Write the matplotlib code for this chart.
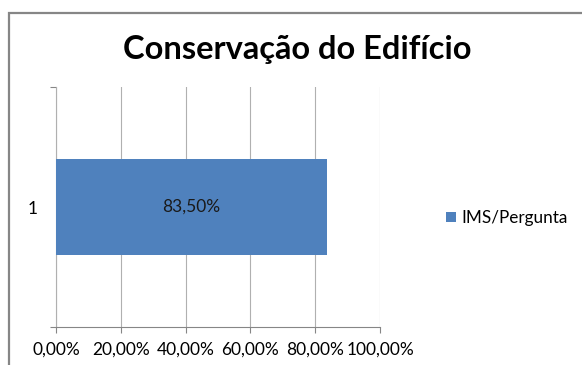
import matplotlib
matplotlib.use("Agg")
import matplotlib.pyplot as plt
from matplotlib.patches import Patch, Rectangle

plt.rcParams['font.family'] = ['Lato', 'DejaVu Sans']

categories = ["1"]
series_name = "IMS/Pergunta"
values = [0.835]
value_labels = ["83,50%"]
x_ticks = [0.0, 0.2, 0.4, 0.6, 0.8, 1.0]
x_tick_labels = ["0,00%", "20,00%", "40,00%", "60,00%", "80,00%", "100,00%"]
title = "Conservação do Edifício"

W, H = 582, 365
fig = plt.figure(figsize=(W / 100, H / 100), dpi=100)
fig.patch.set_facecolor("white")

# outer chart frame (cropped on right/bottom)
fig.patches.append(Rectangle((8.5 / W, -0.1), 1.2, 1 - 12.5 / H + 0.1,
                             transform=fig.transFigure, fill=False,
                             edgecolor="#868686", linewidth=1.6))

ax = fig.add_axes([56 / W, 1 - 327 / H, (380 - 56) / W, (327 - 87) / H])
ypos = list(range(1, len(categories) + 1))
bars = ax.barh(ypos, values, height=0.4, color="#4F81BD", zorder=3)
for b, lab in zip(bars, value_labels):
    ax.text(b.get_x() + b.get_width() / 2, b.get_y() + b.get_height() / 2, lab,
            ha="center", va="center", fontsize=12.5, color="#1a1a1a", zorder=4)

ax.set_xlim(0, 1.0)
ax.set_ylim(0.5, len(categories) + 0.5)
ax.set_xticks(x_ticks)
ax.set_xticklabels(x_tick_labels, fontsize=12.5)
ax.set_yticks(ypos)
ax.set_yticklabels(categories, fontsize=12.5)
ax.set_yticks([0.5, len(categories) + 0.5], minor=True)

ax.tick_params(axis="x", which="major", length=4.3, width=0.8, color="#868686",
               direction="out", pad=6)
ax.tick_params(axis="y", which="major", length=0, pad=13.5)
ax.tick_params(axis="y", which="minor", length=4.3, width=0.8, color="#868686",
               direction="out")

for s in ["top", "right"]:
    ax.spines[s].set_visible(False)
for s in ["left", "bottom"]:
    ax.spines[s].set_color("#868686")
    ax.spines[s].set_linewidth(0.8)
ax.spines["left"].set_color("#b0b0b0")

ax.grid(axis="x", color="#b0b0b0", linewidth=0.8, zorder=0)
ax.set_axisbelow(True)

fig.text(297 / W, 1 - 49 / H, title, ha="center", va="center",
         fontsize=23.5, fontweight="bold", color="#000000")

fig.legend(handles=[Patch(facecolor="#4F81BD", label=series_name)],
           loc="center left", bbox_to_anchor=(446 / W, 1 - 218 / H),
           frameon=False, fontsize=12.3, handlelength=0.6, handleheight=0.6,
           handletextpad=0.3, borderpad=0, borderaxespad=0)

fig.savefig("out.png", dpi=100, facecolor="white")
